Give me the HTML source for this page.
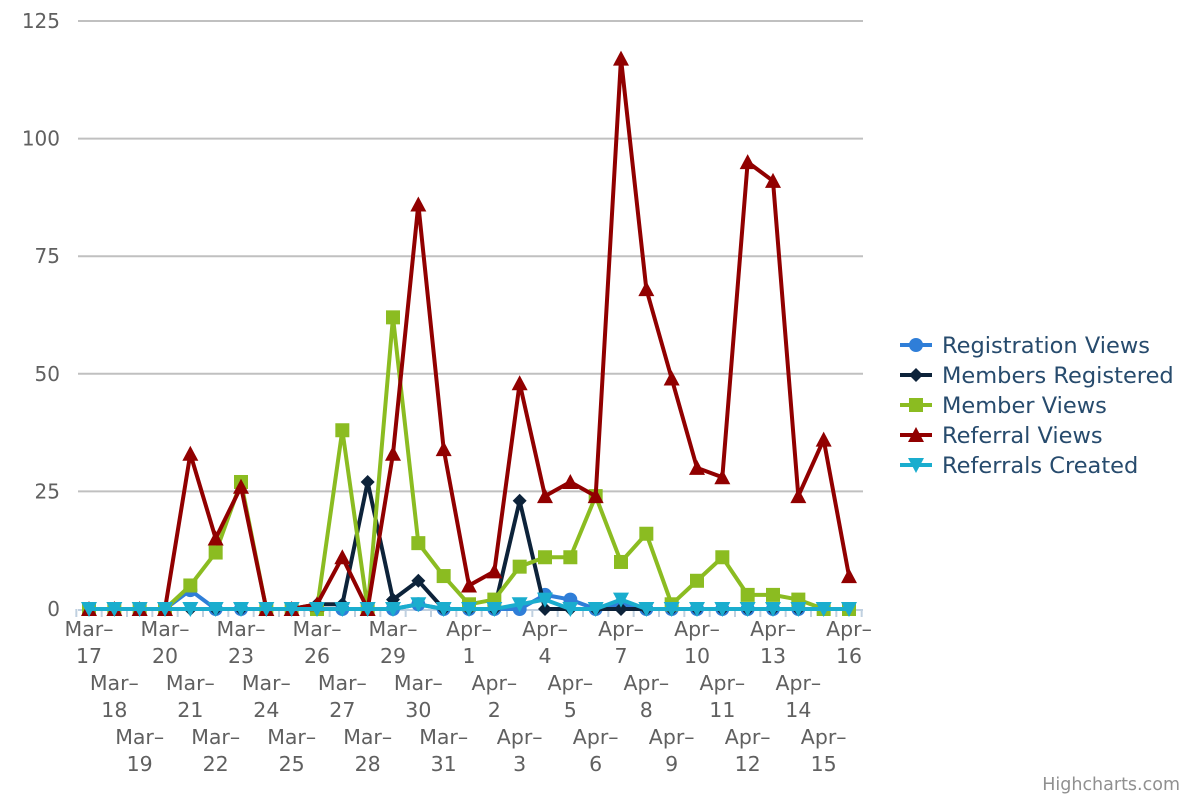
<!DOCTYPE html>
<html><head><meta charset="utf-8"><style>
html,body{margin:0;padding:0;background:#fff;width:1200px;height:800px;overflow:hidden}
svg{display:block;font-family:"DejaVu Sans","Liberation Sans",sans-serif}
</style></head><body>
<svg id="chart" width="1200" height="800" viewBox="0 0 1200 800">
<g id="grid"></g>
<g id="yaxis"></g>
<g id="xaxis"></g>
<g id="series"></g>
<g id="legend"></g>
<text x="1180" y="790" text-anchor="end" font-size="17.5" fill="#909090">Highcharts.com</text>
</svg>
<script>
const categories = ["Mar-17","Mar-18","Mar-19","Mar-20","Mar-21","Mar-22","Mar-23","Mar-24","Mar-25","Mar-26","Mar-27","Mar-28","Mar-29","Mar-30","Mar-31","Apr-1","Apr-2","Apr-3","Apr-4","Apr-5","Apr-6","Apr-7","Apr-8","Apr-9","Apr-10","Apr-11","Apr-12","Apr-13","Apr-14","Apr-15","Apr-16"];
const registrationViews = [0,0,0,0,4,0,0,0,0,0,0,0,0,1,0,0,0,0,3,2,0,1,0,0,0,0,0,0,0,0,0];
const membersRegistered = [0,0,0,0,0,0,0,0,0,1,1,27,2,6,0,0,0,23,0,0,0,0,0,0,0,0,0,0,0,0,0];
const memberViews = [0,0,0,0,5,12,27,0,0,0,38,0,62,14,7,1,2,9,11,11,24,10,16,1,6,11,3,3,2,0,0];
const referralViews = [0,0,0,0,33,15,26,0,0,1,11,0,33,86,34,5,8,48,24,27,24,117,68,49,30,28,95,91,24,36,7];
const referralsCreated = [0,0,0,0,0,0,0,0,0,0,0,0,0,1,0,0,0,1,2,0,0,2,0,0,0,0,0,0,0,0,0];
const yTicks = [0,25,50,75,100,125];

const NS="http://www.w3.org/2000/svg";
const X0=89, X1=849, Y0=609, Y1=21, YMAX=125;
const xs=i=>X0+(X1-X0)*i/(categories.length-1);
const ys=v=>Y0-(Y0-Y1)*v/YMAX;
function mk(tag,attrs,parent){const e=document.createElementNS(NS,tag);for(const k in attrs)e.setAttribute(k,attrs[k]);parent.appendChild(e);return e;}
const grid=document.getElementById('grid'),yax=document.getElementById('yaxis'),xax=document.getElementById('xaxis'),ser=document.getElementById('series'),leg=document.getElementById('legend');

yTicks.forEach(t=>{
  if(t>0){const l=mk('line',{x1:78,x2:863,y1:ys(t),y2:ys(t),stroke:'#c0c0c0','stroke-width':2},grid);
  
  }
  const tx=mk('text',{x:60,y:ys(t)+7,'text-anchor':'end','font-size':20,fill:'#606060'},yax);
  tx.textContent=t;
  
  
});
const axl=mk('line',{x1:78,x2:863,y1:Y0+1,y2:Y0+1,stroke:'#c0d0e0','stroke-width':2},xax);


const step=(X1-X0)/(categories.length-1);
for(let i=0;i<=categories.length;i++){
  const x=X0-step/2+i*step;
  const tk=mk('line',{x1:x,x2:x,y1:Y0,y2:Y0+8,stroke:'#c0d0e0','stroke-width':2},xax);
  
  
}
categories.forEach((c,i)=>{
  const row=i%3, parts=c.split('-');
  const t=mk('text',{x:xs(i),'text-anchor':'middle','font-size':20.5,fill:'#606060'},xax);
  
  
  const a=mk('tspan',{x:xs(i),y:636+row*54},t);a.textContent=parts[0]+'–';
  const b=mk('tspan',{x:xs(i),y:663+row*54},t);b.textContent=parts[1];
});

function marker(kind,x,y,color,parent){
  let m;
  if(kind==='circle') m=mk('circle',{cx:x,cy:y,r:7,fill:color},parent);
  else if(kind==='diamond') m=mk('path',{d:`M${x} ${y-7}L${x+7} ${y}L${x} ${y+7}L${x-7} ${y}Z`,fill:color},parent);
  else if(kind==='square') m=mk('rect',{x:x-7,y:y-7,width:14,height:14,fill:color},parent);
  else if(kind==='triangle') m=mk('path',{d:`M${x} ${y-8}L${x+8} ${y+7}L${x-8} ${y+7}Z`,fill:color},parent);
  else m=mk('path',{d:`M${x-8} ${y-7}L${x+8} ${y-7}L${x} ${y+8}Z`,fill:color},parent);
  return m;
}
const seriesList=[
  {name:'Registration Views',data:registrationViews,color:'#2f7ed8',m:'circle',key:'registration-views'},
  {name:'Members Registered',data:membersRegistered,color:'#0d233a',m:'diamond',key:'members-registered'},
  {name:'Member Views',data:memberViews,color:'#8bbc21',m:'square',key:'member-views'},
  {name:'Referral Views',data:referralViews,color:'#910000',m:'triangle',key:'referral-views'},
  {name:'Referrals Created',data:referralsCreated,color:'#1aadce',m:'tri-down',key:'referrals-created'}
];
seriesList.forEach((s,si)=>{
  const g=mk('g',{},ser);
  
  
  const p=mk('polyline',{points:s.data.map((v,i)=>xs(i)+','+ys(v)).join(' '),fill:'none',stroke:s.color,'stroke-width':4,'stroke-linejoin':'round'},g);
  
  
  s.data.forEach((v,i)=>{
    const m=marker(s.m,xs(i),ys(v),s.color,g);
    
    
  });
  const ly=345+si*30;
  const lg=mk('g',{},leg);
  
  
  mk('line',{x1:900,x2:932,y1:ly,y2:ly,stroke:s.color,'stroke-width':4},lg);
  marker(s.m,916,ly,s.color,lg);
  const t=mk('text',{x:942,y:ly+8,'font-size':22.5,fill:'#274b6d'},lg);
  t.textContent=s.name;
});
</script>
</body></html>
